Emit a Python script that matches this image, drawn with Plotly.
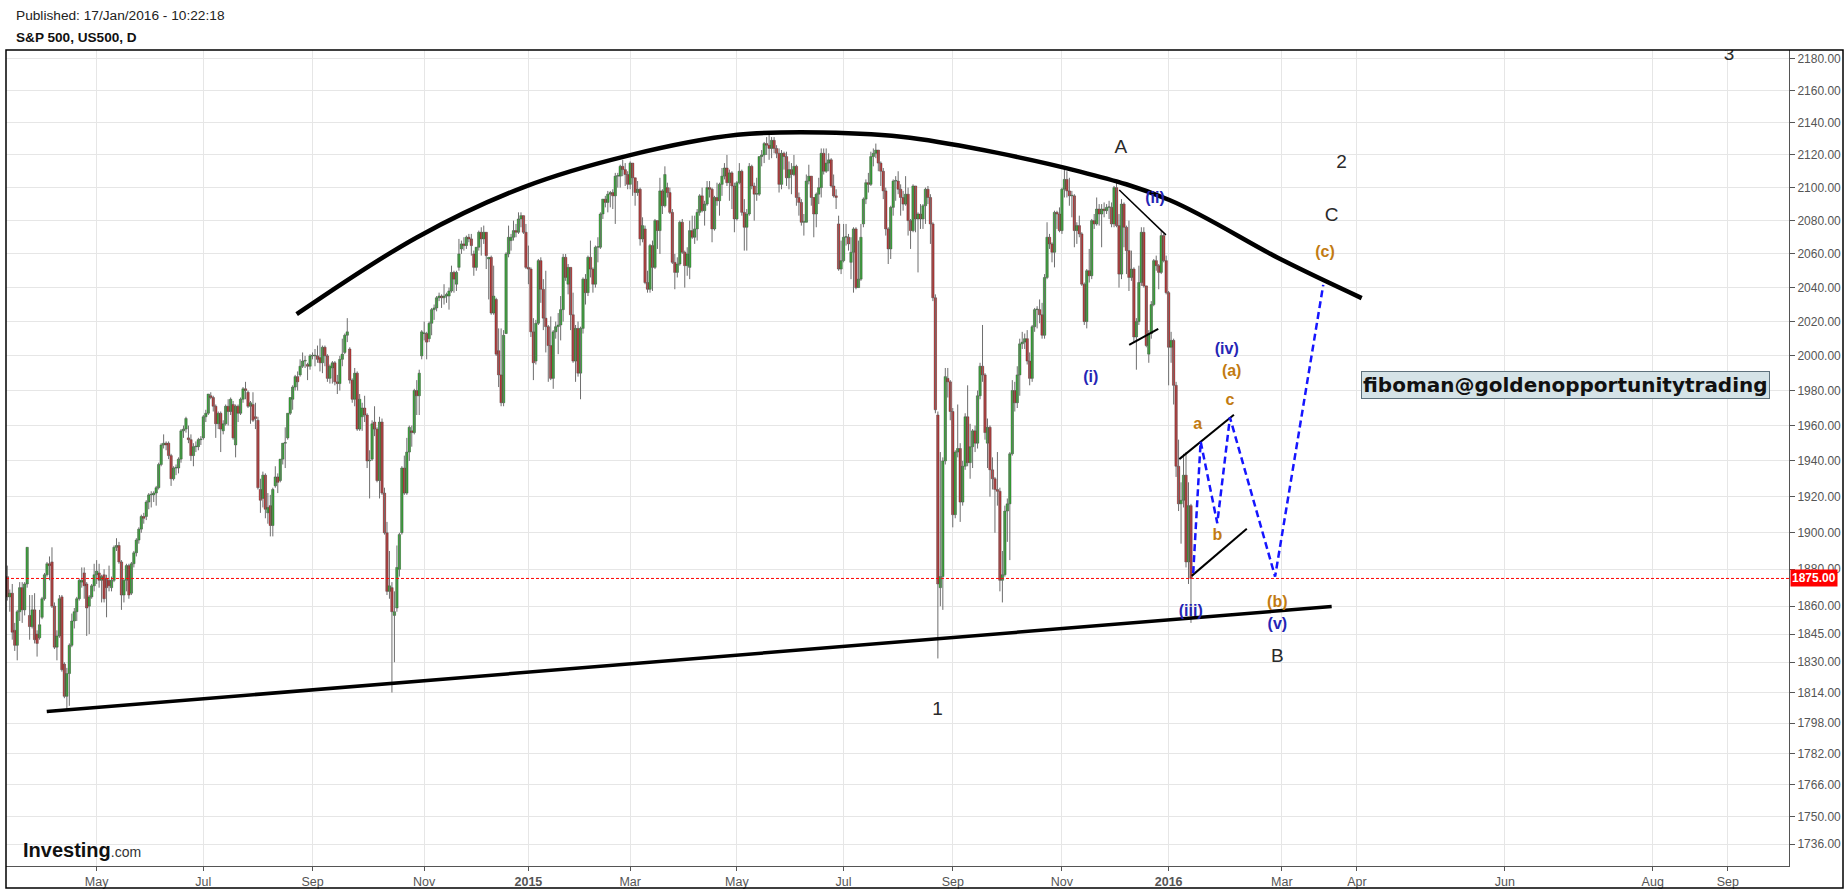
import math
import numpy as np
import pandas as pd
import plotly.graph_objects as go

# ---------------- DATA ----------------
FIRST_DAY = "2014-03-11"
LAST_DAY = "2016-01-15"
CLOSED_DAYS = ["2014-04-18", "2014-12-25", "2015-01-01", "2015-04-03", "2015-12-25", "2016-01-01"]

open_ = [
 1876,1865,1867,1847,1839,1857,1870,1858,1872,1855,1849,1858,1845,1843,1854,
 1864,1877,1883,1884,1860,1838,1844,1865,1829,1812,1824,1839,1852,1857,1864,1873,1878,1872,1860,1865,1871,
 1877,1878,1874,1877,1875,1874,1870,1874,1892,1893,1884,1866,1874,1882,1867,1883,1889,1896,1902,1909,1909,1917,
 1921,1921,1922,1925,1938,1949,1950,1950,1943,1930,1936,1936,1941,1957,1958,1953,1952,1943,1948,1948,1952,
 1953,1965,1967,1977,1976,1971,1961,1967,1957,1961,1971,1968,1972,1949,1971,1967,1975,1981,1979,1971,1972,1965,1963,
 1924,1919,1932,1911,1915,1904,1926,1931,1929,1941,1950,1953,1967,1975,1982,1988,1989,1994,1997,1995,1994,
 2000,2000,2000,1999,1996,2005,2000,1987,1993,1996,1985,1984,1998,2002,2012,2004,1986,1975,1990,1958,1965,1970,
 1966,1940,1941,1962,1958,1929,1962,1922,1900,1868,1870,1855,1859,1880,1900,1936,1922,1945,1957,1956,1980,1977,2000,
 2013,2013,2010,2019,2027,2028,2034,2035,2034,2035,2035,2038,2049,2042,2052,2063,2066,2065,2070,2069,
 2060,2052,2064,2073,2069,2073,2057,2058,2025,2033,2003,1989,1973,2013,2060,2068,2070,2074,2073,2081,2083,2073,
 2052,2051,2014,1997,2019,2056,2039,2022,2017,2006,1987,2014,2017,2018,2027,2058,2042,2052,2024,1997,2016,
 1990,2016,2045,2037,2058,2051,2042,2064,2064,2084,2093,2091,2096,2097,2095,2107,2107,2113,2111,2108,
 2102,2115,2106,2097,2099,2069,2075,2043,2039,2065,2052,2080,2074,2098,2089,2100,2097,2085,2055,2049,2054,2079,
 2061,2053,2052,2074,2070,2075,2085,2095,2086,2090,2100,2099,2075,2094,2092,2102,2107,2112,2103,2109,2101,
 2081,2103,2110,2085,2076,2084,2113,2101,2096,2096,2119,2120,2127,2126,2124,2129,2124,2121,2102,2121,2119,
 2106,2111,2108,2113,2094,2091,2079,2079,2104,2107,2094,2084,2096,2100,2121,2110,2115,2117,2101,2095,2078,2051,
 2056,2070,2070,2055,2061,2075,2040,2045,2078,2093,2103,2102,2119,2121,2123,2115,2110,2098,2075,2063,2088,2104,2104,
 2099,2094,2090,2096,2080,2074,2101,2081,2084,2081,2089,2099,2094,2078,2034,1966,1870,1876,1940,1987,1985,
 1968,1910,1945,1947,1917,1937,1965,1939,1948,1957,1950,1977,1994,1989,1950,1959,1935,1930,1924,1923,1874,1877,
 1912,1916,1944,1980,1973,1989,2007,2008,2010,1997,1987,2017,2027,2027,2024,2012,2046,2070,2066,2061,2085,2084,
 2074,2099,2105,2098,2095,2095,2074,2077,2072,2042,2020,2050,2047,2080,2078,2087,2084,2087,2086,2088,2088,
 2078,2100,2077,2048,2090,2076,2062,2046,2051,2011,2020,2043,2073,2041,2001,2013,2030,2056,2053,2049,2071,2056,
 2037,2005,2009,1983,1937,1916,1918,1932,1884,1915,
]
high = [
 1882,1869,1872,1851,1858,1873,1873,1873,1892,1866,1866,1867,1847,1858,1865,
 1878,1884,1887,1892,1862,1847,1866,1866,1830,1827,1840,1856,1859,1865,1875,1881,1881,1873,1866,1872,1883,
 1885,1883,1877,1880,1877,1882,1876,1893,1897,1895,1885,1875,1883,1883,1884,1890,1897,1903,1910,1911,1918,1922,
 1923,1923,1926,1939,1950,1955,1951,1951,1944,1937,1938,1942,1958,1960,1965,1960,1955,1950,1951,1953,1954,
 1966,1969,1978,1979,1977,1972,1968,1968,1963,1972,1975,1976,1974,1972,1972,1976,1982,1985,1980,1974,1979,1973,1965,
 1930,1934,1933,1922,1921,1925,1937,1933,1941,1950,1959,1967,1976,1983,1989,1991,1998,2002,2000,1996,2001,
 2002,2004,2006,2010,2006,2006,2001,1995,1997,1997,1989,2000,2010,2013,2022,2005,1987,1993,1991,1978,1973,1977,
 1967,1946,1963,1971,1959,1965,1964,1925,1906,1890,1873,1868,1893,1900,1937,1943,1953,1960,1960,1981,1986,1992,2015,
 2020,2014,2020,2028,2030,2035,2037,2036,2042,2037,2040,2053,2050,2050,2069,2068,2070,2071,2072,2072,
 2062,2064,2074,2076,2077,2073,2058,2059,2053,2034,2016,2016,2015,2061,2077,2072,2080,2078,2085,2085,2083,2078,
 2065,2052,2022,2021,2057,2058,2045,2050,2018,2023,2015,2020,2025,2035,2060,2060,2054,2052,2037,2018,2020,
 2017,2046,2048,2059,2068,2052,2065,2070,2085,2093,2095,2098,2098,2099,2109,2109,2114,2117,2115,2110,
 2116,2115,2106,2104,2100,2082,2077,2050,2066,2068,2081,2080,2106,2099,2113,2103,2100,2087,2060,2058,2080,2081,
 2062,2064,2080,2083,2083,2087,2096,2100,2092,2104,2104,2100,2095,2103,2103,2112,2115,2120,2111,2110,2103,
 2104,2115,2111,2093,2087,2115,2114,2103,2106,2119,2123,2128,2131,2133,2131,2131,2126,2124,2123,2122,2122,
 2116,2115,2120,2114,2097,2093,2084,2108,2114,2107,2094,2097,2106,2124,2124,2124,2121,2118,2108,2099,2083,2068,
 2078,2078,2072,2070,2076,2076,2068,2078,2094,2105,2109,2122,2124,2127,2123,2116,2112,2100,2076,2089,2105,2107,2110,
 2102,2098,2107,2100,2081,2102,2101,2085,2090,2090,2100,2101,2096,2079,2036,1968,1945,1942,1993,1993,1986,
 1970,1946,1972,1950,1940,1967,1983,1961,1958,1960,1980,1996,2018,1990,1964,1960,1942,1931,1945,1925,1890,1915,
 1919,1945,1986,1985,1994,2010,2014,2013,2015,2002,2018,2028,2029,2033,2031,2048,2079,2072,2067,2086,2086,2088,
 2100,2112,2110,2106,2098,2096,2079,2083,2073,2043,2051,2063,2081,2084,2094,2090,2090,2091,2090,2092,2091,
 2101,2103,2084,2093,2091,2077,2080,2062,2052,2022,2053,2076,2076,2041,2015,2032,2057,2059,2054,2074,2072,2059,
 2038,2014,2010,1985,1952,1928,1944,1945,1928,1916,
]
low = [
 1863,1857,1842,1836,1831,1852,1851,1855,1870,1842,1848,1840,1833,1842,1853,
 1863,1876,1874,1859,1837,1831,1843,1825,1811,1805,1807,1838,1848,1852,1863,1870,1864,1844,1845,1864,1868,
 1872,1870,1862,1862,1854,1868,1868,1873,1890,1883,1858,1862,1868,1864,1866,1881,1887,1894,1900,1905,1907,1913,
 1914,1917,1915,1924,1937,1947,1946,1941,1926,1929,1932,1933,1939,1953,1956,1950,1940,1937,1945,1946,1949,
 1952,1962,1966,1975,1968,1953,1958,1945,1955,1960,1960,1966,1952,1942,1962,1966,1973,1975,1970,1961,1962,1958,1924,
 1911,1914,1908,1905,1898,1898,1925,1922,1928,1938,1936,1952,1966,1969,1980,1980,1988,1993,1993,1986,1992,
 1998,1994,1996,1991,1990,1994,1985,1984,1984,1983,1978,1980,1994,2001,2008,1984,1973,1971,1957,1957,1957,1962,
 1936,1919,1940,1954,1928,1919,1921,1899,1866,1864,1814,1830,1857,1876,1899,1921,1921,1940,1948,1955,1966,1966,1998,
 2009,1998,2008,2012,2021,2026,2032,2028,2030,2031,2027,2037,2037,2038,2050,2060,2062,2063,2067,2059,
 2047,2050,2062,2059,2066,2051,2033,2024,2024,2000,1982,1971,1971,2013,2058,2062,2068,2070,2072,2076,2072,2051,
 2042,2011,1986,1995,2018,2031,2015,2002,1985,1986,1981,2010,2001,2009,2020,2044,2036,2015,1996,1985,1988,
 1975,2013,2030,2035,2046,2037,2040,2055,2063,2081,2088,2085,2088,2087,2078,2100,2100,2107,2101,2099,
 2099,2095,2089,2095,2065,2067,2042,2037,2037,2038,2051,2063,2060,2084,2088,2094,2084,2054,2039,2046,2053,2060,
 2040,2047,2045,2069,2066,2068,2083,2085,2077,2089,2094,2067,2074,2089,2083,2095,2105,2101,2092,2087,2073,
 2080,2102,2083,2062,2062,2083,2099,2080,2092,2095,2113,2115,2120,2117,2118,2121,2118,2097,2099,2111,2101,
 2099,2096,2107,2089,2083,2077,2071,2079,2102,2089,2070,2076,2090,2094,2108,2109,2110,2100,2094,2087,2050,2048,
 2055,2065,2062,2045,2037,2039,2040,2044,2076,2090,2097,2101,2113,2118,2110,2101,2093,2071,2054,2057,2083,2092,2096,
 2083,2086,2089,2071,2063,2073,2073,2049,2075,2075,2078,2090,2066,2032,1967,1832,1860,1858,1938,1976,1963,
 1903,1908,1942,1906,1915,1935,1937,1930,1936,1945,1947,1975,1985,1952,1936,1920,1924,1900,1915,1868,1862,1876,
 1895,1885,1943,1968,1970,1977,2004,2004,1995,1983,1985,2014,2016,2019,2010,2010,2045,2063,2055,2052,2075,2073,
 2072,2094,2094,2089,2082,2064,2066,2070,2041,2018,2016,2043,2045,2075,2077,2077,2064,2082,2084,2081,2076,
 2076,2076,2040,2045,2064,2048,2038,2044,2008,1992,2018,2041,2040,2005,1996,2010,2029,2050,2039,2048,2055,2036,
 1983,1996,1972,1931,1912,1894,1914,1881,1872,1851,
]
close = [
 1865,1867,1846,1839,1857,1870,1858,1872,1892,1849,1858,1842,1840,1850,1864,
 1877,1883,1882,1860,1838,1844,1864,1826,1812,1824,1839,1852,1857,1864,1874,1874,1871,1859,1865,1871,1877,
 1879,1874,1876,1864,1870,1871,1874,1892,1893,1884,1866,1874,1882,1866,1883,1889,1896,1902,1909,1908,1917,1921,
 1921,1922,1925,1938,1949,1950,1949,1943,1930,1936,1936,1941,1957,1958,1964,1952,1943,1948,1948,1952,1952,
 1965,1967,1978,1976,1971,1961,1967,1958,1961,1971,1968,1975,1953,1971,1967,1975,1981,1980,1971,1973,1963,1964,1925,
 1918,1932,1913,1914,1904,1924,1931,1928,1941,1950,1950,1967,1976,1982,1988,1985,1994,1997,1997,1994,2000,
 2000,2000,1998,1996,2005,2000,1987,1994,1996,1985,1984,1998,2001,2012,2014,1986,1975,1990,1958,1975,1970,1966,
 1940,1940,1961,1958,1929,1962,1922,1900,1868,1871,1857,1857,1881,1899,1936,1922,1945,1959,1956,1980,1977,1990,2014,
 2013,2008,2019,2027,2028,2034,2035,2034,2035,2036,2038,2049,2045,2049,2060,2066,2065,2070,2069,2065,
 2052,2064,2073,2069,2073,2059,2058,2025,2035,2001,1989,1973,2012,2060,2070,2070,2074,2073,2081,2083,2073,2052,
 2051,2014,1996,2019,2056,2039,2022,2017,2006,1987,2014,2017,2018,2027,2058,2046,2052,2024,1997,2016,1990,
 2016,2045,2037,2058,2051,2042,2064,2064,2084,2093,2091,2096,2097,2095,2107,2107,2113,2111,2108,2102,
 2115,2106,2097,2099,2069,2077,2043,2039,2065,2052,2080,2074,2098,2089,2108,2097,2085,2055,2049,2054,2079,2061,
 2053,2060,2074,2070,2075,2085,2095,2086,2090,2100,2099,2075,2094,2092,2102,2107,2112,2103,2109,2101,2081,
 2103,2110,2085,2076,2084,2113,2101,2096,2096,2119,2120,2127,2126,2124,2129,2124,2121,2102,2121,2119,2106,
 2111,2108,2113,2094,2091,2079,2079,2104,2107,2094,2084,2096,2100,2121,2110,2115,2117,2101,2095,2094,2051,2056,
 2070,2070,2066,2061,2075,2040,2045,2070,2093,2103,2102,2119,2121,2123,2115,2110,2098,2075,2063,2088,2104,2104,2099,
 2094,2090,2096,2080,2074,2101,2081,2084,2081,2089,2099,2094,2078,2034,1969,1872,1876,1940,1988,1985,1968,
 1910,1945,1947,1917,1937,1965,1939,1948,1957,1950,1977,1994,1989,1956,1959,1935,1930,1924,1923,1874,1877,1912,
 1916,1944,1980,1973,1989,2007,2008,2010,1997,1987,2017,2027,2027,2024,2012,2046,2070,2066,2061,2085,2084,2074,
 2099,2105,2098,2095,2095,2074,2077,2072,2042,2020,2050,2047,2080,2078,2087,2084,2087,2086,2088,2088,2078,
 2100,2077,2048,2090,2076,2062,2046,2051,2011,2020,2043,2073,2041,2006,2013,2030,2056,2053,2049,2071,2056,2037,
 2005,2009,1983,1937,1916,1918,1932,1884,1915,1875,
]

LAST_PRICE = 1875.00

X_TICK_DATES = ["2014-05-01", "2014-07-01", "2014-09-01", "2014-11-03", "2015-01-02", "2015-03-02",
                "2015-05-01", "2015-07-01", "2015-09-01", "2015-11-02", "2016-01-04",
                "2016-03-01", "2016-04-01", "2016-06-01", "2016-08-01", "2016-09-01"]
X_TICK_LABELS = ["May", "Jul", "Sep", "Nov", "<b>2015</b>", "Mar", "May", "Jul", "Sep", "Nov", "<b>2016</b>",
                 "Mar", "Apr", "Jun", "Aug", "Sep"]
Y_TICKS = [2180, 2160, 2140, 2120, 2100, 2080, 2060, 2040, 2020, 2000, 1980, 1960, 1940, 1920, 1900,
           1880, 1860, 1845, 1830, 1814, 1798, 1782, 1766, 1750, 1736]

# drawings (bar index, price)
ARC_BAR = [116.6, 165.0, 207.9, 250.2, 294.2, 328.8, 363.8, 432.3, 468.3, 513.6, 545.8]
ARC_PRICE = [2024.3, 2069.9, 2100.2, 2119.6, 2132.4, 2133.9, 2130.6, 2109.8, 2092.5, 2056.5, 2033.8]
SUPPORT_BAR = [15.9, 533.7]
SUPPORT_PRICE = [1804.0, 1859.8]
WEDGE_TOP_BAR = [448.1, 466.9]
WEDGE_TOP_PRICE = [2098.6, 2071.4]
WEDGE_LOW_BAR = [452.1, 463.8]
WEDGE_LOW_PRICE = [2006.4, 2015.7]
CHAN_UP_BAR = [472.3, 494.3]
CHAN_UP_PRICE = [1941.0, 1966.1]
CHAN_DN_BAR = [477.3, 499.5]
CHAN_DN_PRICE = [1876.4, 1902.2]
PATH_BAR = [477.9, 480.9, 487.6, 492.7, 510.9, 530.3]
PATH_PRICE = [1877.9, 1950.9, 1905.3, 1964.6, 1876.0, 2041.6]

LABEL_TEXT = ["A", "2", "C", "B", "1", "(ii)", "(i)", "(iv)", "(iii)", "(v)", "(c)", "(a)", "(b)", "a", "b", "c"]
LABEL_BAR = [448.7, 537.7, 533.7, 511.8, 374.9, 462.5, 436.6, 491.4, 476.9, 511.8, 531.0, 493.4, 511.8, 479.7, 487.6, 492.7]
LABEL_PRICE = [2124.2, 2114.9, 2082.4, 1832.7, 1804.8, 2093.0, 1987.0, 2003.5, 1856.8, 1850.0, 2060.5, 1990.9, 1861.9, 1960.4, 1898.3, 1974.1]
LABEL_KIND = ["major"] * 5 + ["blue"] * 5 + ["orange"] * 6

CUT_LABEL = ["3"]
CUT_BAR = [693.8]
CUT_PRICE = [2182.1]

NOTE_TEXT = "fiboman@goldenopportunitytrading"
NOTE_BAR = 628.1
NOTE_PRICE = 1983.3

# time scale of the empty area to the right of the last bar
FUTURE_SLOTS_PER_DAY = 0.977
FUTURE_SHIFT = -8.34

# ---------------- BUILD ----------------
bdays = pd.bdate_range(FIRST_DAY, LAST_DAY)
dates = [d for d in bdays if d.strftime("%Y-%m-%d") not in CLOSED_DAYS]
n = len(close)
dates = dates[:n]
bars = list(range(n))


def slot(day):
    day = pd.Timestamp(day)
    if day <= dates[-1]:
        return int(np.searchsorted(np.array(dates, dtype="datetime64[ns]"), np.datetime64(day)))
    return (n - 1) + FUTURE_SLOTS_PER_DAY * (day - dates[-1]).days + FUTURE_SHIFT


tick_pos = [slot(d) for d in X_TICK_DATES]

W, H = 1847, 891
ML, MR, MT, MB = 6, 58, 50, 25
PX_PER_BAR = 2.4815
FIRST_BAR_PX = 7.3
x_lo = (ML - FIRST_BAR_PX) / PX_PER_BAR
x_hi = (W - MR - FIRST_BAR_PX) / PX_PER_BAR
y_lo, y_hi = math.log10(1725.0), math.log10(2185.5)

UP, DOWN = "#10d010", "#f01010"

fig = go.Figure()

# wicks
wx, wy = [], []
for i in bars:
    wx += [i, i, None]
    wy += [low[i], high[i], None]
fig.add_trace(go.Scatter(x=wx, y=wy, mode="lines", line=dict(color="#6e6e6e", width=1),
                         hoverinfo="skip", connectgaps=False))

# bodies
body_base = [min(o, c) for o, c in zip(open_, close)]
body_len = [max(abs(c - o), 0.4) for o, c in zip(open_, close)]
body_col = [UP if c >= o else DOWN for o, c in zip(open_, close)]
fig.add_trace(go.Bar(x=bars, y=body_len, base=body_base, width=0.95,
                     marker=dict(color=body_col, line=dict(color="#303030", width=0.45)),
                     hoverinfo="skip"))

# current price line
fig.add_trace(go.Scatter(x=[x_lo, x_hi], y=[LAST_PRICE, LAST_PRICE], mode="lines",
                         line=dict(color="#ff0000", width=1, dash="3px,2px"), hoverinfo="skip"))

fig.add_trace(go.Scatter(x=ARC_BAR, y=ARC_PRICE, mode="lines", line=dict(color="black", width=4.5, shape="spline"),
                         hoverinfo="skip"))
fig.add_trace(go.Scatter(x=SUPPORT_BAR, y=SUPPORT_PRICE, mode="lines", line=dict(color="black", width=3.5),
                         hoverinfo="skip"))
for bx, py, w in [(WEDGE_TOP_BAR, WEDGE_TOP_PRICE, 1.5), (WEDGE_LOW_BAR, WEDGE_LOW_PRICE, 2),
                  (CHAN_UP_BAR, CHAN_UP_PRICE, 2), (CHAN_DN_BAR, CHAN_DN_PRICE, 2)]:
    fig.add_trace(go.Scatter(x=bx, y=py, mode="lines", line=dict(color="black", width=w), hoverinfo="skip"))
fig.add_trace(go.Scatter(x=PATH_BAR, y=PATH_PRICE, mode="lines",
                         line=dict(color="#1515ff", width=2.5, dash="7px,4px"), hoverinfo="skip"))

styles = {
    "major": dict(color="#2a2a2a", size=19, fmt="{}"),
    "blue": dict(color="#2525b5", size=16, fmt="<b>{}</b>"),
    "orange": dict(color="#c27b12", size=16, fmt="<b>{}</b>"),
}
for kind, st in styles.items():
    idx = [i for i, k in enumerate(LABEL_KIND) if k == kind]
    fig.add_trace(go.Scatter(
        x=[LABEL_BAR[i] for i in idx], y=[LABEL_PRICE[i] for i in idx],
        text=[st["fmt"].format(LABEL_TEXT[i]) for i in idx], mode="text",
        textfont=dict(family="Liberation Sans, Arial, sans-serif", size=st["size"], color=st["color"]),
        cliponaxis=False, hoverinfo="skip"))
fig.add_trace(go.Scatter(x=CUT_BAR, y=CUT_PRICE, text=CUT_LABEL, mode="text",
                         textfont=dict(family="Liberation Sans, Arial, sans-serif", size=19, color="#2a2a2a"),
                         cliponaxis=True, hoverinfo="skip"))

pw = W - ML - MR
ph = H - MT - MB


def px_x(px):
    return (px - ML) / pw


def px_y(py):
    return (H - MB - py) / ph


annotations = [
    dict(x=NOTE_BAR, y=math.log10(NOTE_PRICE), xref="x", yref="y", text="<b>" + NOTE_TEXT + "</b>",
         showarrow=False, font=dict(family="DejaVu Sans, Verdana, sans-serif", size=20, color="#111111"),
         bgcolor="#d5e3e7", bordercolor="#5e717c", borderwidth=1, borderpad=1),
    dict(x=1.0, y=math.log10(LAST_PRICE), xref="paper", yref="y", xanchor="left", yanchor="middle",
         text="<b>1875.00</b>", showarrow=False, font=dict(family="Liberation Sans, Arial", size=12, color="white"),
         bgcolor="#ff0000", borderpad=1, xshift=1),
    dict(x=px_x(14), y=px_y(16), xref="paper", yref="paper", xanchor="left", yanchor="middle",
         text="Published: 17/Jan/2016 - 10:22:18", showarrow=False,
         font=dict(family="Liberation Sans, Arial", size=13.7, color="#222222")),
    dict(x=px_x(14), y=px_y(37), xref="paper", yref="paper", xanchor="left", yanchor="middle",
         text="<b>S&P 500, US500, D</b>", showarrow=False,
         font=dict(family="Liberation Sans, Arial", size=13.6, color="#111111")),
    dict(x=px_x(21), y=px_y(850), xref="paper", yref="paper", xanchor="left", yanchor="middle",
         text="<b>Investing</b><span style='font-size:14px;color:#333'>.com</span>", showarrow=False,
         font=dict(family="Liberation Sans, Arial", size=20, color="#111111")),
]

shapes = [
    dict(type="rect", xref="paper", yref="paper", x0=px_x(6), x1=px_x(1843), y0=px_y(888), y1=px_y(50),
         line=dict(color="black", width=1.5), fillcolor="rgba(0,0,0,0)", layer="above"),
]

fig.update_layout(
    width=W, height=H, margin=dict(l=ML, r=MR, t=MT, b=MB, autoexpand=False),
    paper_bgcolor="white", plot_bgcolor="white", showlegend=False, barmode="overlay",
    annotations=annotations, shapes=shapes,
    xaxis=dict(range=[x_lo, x_hi], tickmode="array", tickvals=tick_pos, ticktext=X_TICK_LABELS,
               showgrid=True, gridcolor="#e6e6e6", gridwidth=1, zeroline=False,
               showline=True, linecolor="#555555", linewidth=1, ticks="outside", ticklen=4, tickcolor="#555555",
               tickfont=dict(family="Liberation Sans Narrow, Arial Narrow, Liberation Sans", size=12.5, color="#555555"),
               rangeslider=dict(visible=False), fixedrange=True),
    yaxis=dict(type="log", range=[y_lo, y_hi], side="right", tickmode="array", tickvals=Y_TICKS,
               ticktext=["%.2f" % v for v in Y_TICKS], showgrid=True, gridcolor="#e6e6e6", gridwidth=1,
               zeroline=False, showline=True, linecolor="#555555", linewidth=1, ticks="outside", ticklen=5,
               tickcolor="#555555", tickfont=dict(family="Liberation Sans, Arial", size=12, color="#555555"),
               fixedrange=True),
)

fig.write_html("out.html", config={"displayModeBar": False},
               post_script="document.body.style.margin='0';document.body.style.overflow='hidden';")
